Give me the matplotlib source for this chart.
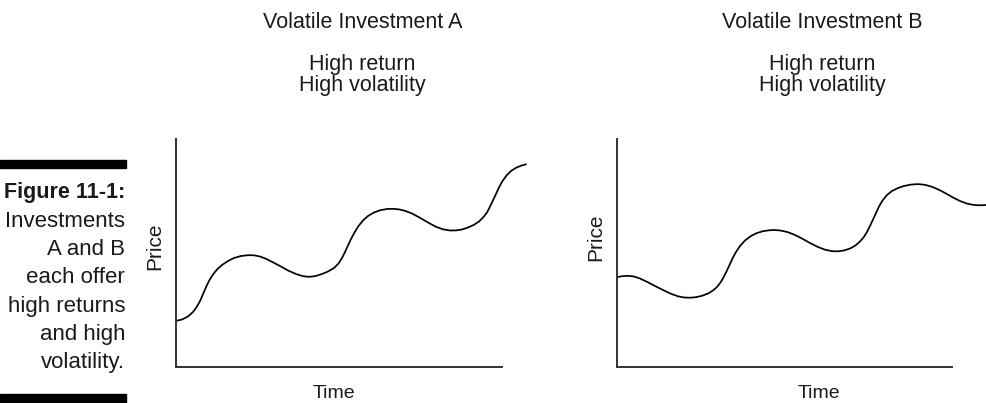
import matplotlib
matplotlib.use('Agg')
import matplotlib.pyplot as plt
import matplotlib.patches as mpatches

# curve readings, in axis units (time right of the y axis, price above the x axis)
time_a = [0, 6.3, 12.3, 17.3, 21.3, 24.8, 27.8, 30.8, 33.8, 37.3, 41.3, 46.3, 52.3,
          58.3, 65.3, 72.3, 78.3, 84.3, 90.3, 96.3, 104.3, 112.3, 120.3, 127.3, 133.3,
          139.3, 146.3, 152.3, 158.3, 162.8, 166.3, 169.3, 172.3, 175.3, 178.8, 182.8,
          187.3, 192.3, 198.3, 204.3, 211.3, 217.3, 223.3, 229.3, 236.3, 244.3, 252.3,
          260.3, 267.3, 274.3, 280.3, 286.3, 292.3, 298.3, 303.3, 307.3, 311.3, 314.3,
          317.3, 320.3, 323.3, 326.8, 330.8, 335.3, 340.3, 345.3, 350.3]
price_a = [46, 47.5, 50.5, 55, 60.5, 67, 74, 81, 87, 92.5, 97.5, 102, 106,
           109, 111, 111.8, 111.7, 110.5, 108.2, 105.2, 101, 96.5, 93, 90.8, 90.2,
           90.8, 93, 95.5, 99, 103.5, 109, 115, 121.5, 128, 134.5, 141,
           146.5, 151, 154.5, 156.7, 158, 158.2, 157.6, 156.2, 153.5, 149.2, 144.5,
           140.2, 137.7, 136.5, 136.6, 137.5, 139.5, 142.2, 145.5, 149.5, 154.5, 160.5,
           166.7, 173, 179.5, 186, 191.5, 196, 199.2, 201.3, 202.7]

time_b = [0, 5.3, 11.3, 17.3, 23.3, 30.3, 38.3, 46.3, 54.3, 61.3, 67.3, 73.3, 79.3,
          85.3, 91.3, 96.3, 100.3, 103.8, 106.8, 109.8, 112.8, 115.8, 119.3, 123.3,
          128.3, 134.3, 140.3, 146.3, 152.3, 158.3, 164.3, 171.3, 178.3, 185.3, 193.3,
          201.3, 208.3, 215.3, 221.3, 227.3, 233.3, 238.3, 242.8, 246.8, 250.3, 253.3,
          256.3, 259.3, 262.3, 265.8, 270.3, 275.3, 281.3, 287.3, 294.3, 301.3, 308.3,
          315.3, 322.3, 329.3, 336.3, 343.3, 350.3, 357.3, 363.3, 370]
price_b = [89.7, 90.8, 91.2, 90.5, 88.5, 85.2, 81, 77, 73.2, 70.7, 69.5, 69.3, 69.8,
           71.2, 73.5, 76.5, 80, 84.5, 89.5, 95.5, 102, 108.5, 115, 121,
           126.5, 131, 134, 135.8, 136.7, 137, 136.4, 134.8, 132, 128.5, 124,
           120, 117.3, 115.8, 115.7, 116.5, 118.5, 121.2, 125, 129.5, 135, 141,
           147.5, 154, 160.5, 166.5, 172, 176, 179, 181, 182.4, 182.9, 182.2,
           180.2, 177.2, 173.5, 169.5, 166, 163.4, 162, 161.7, 162]

titles = ['Volatile Investment A', 'Volatile Investment B']
caption_lines = ['Investments', 'A and B', 'each offer', 'high returns',
                 'and high', 'volatility.']

W, H = 987, 403
FONT = ['Liberation Sans', 'DejaVu Sans']
INK = '#1a1a1a'
AXIS = '#333333'

fig = plt.figure(figsize=(W / 100, H / 100), dpi=100)
fig.patch.set_facecolor('white')


def fx(x):
    return x / W


def fy(y):
    return 1 - y / H


def panel(left, right, top, bottom, t, p, xmax):
    ax = fig.add_axes([fx(left), fy(bottom), (right - left) / W, (bottom - top) / H])
    ax.plot(t, p, color='black', lw=1.25, clip_on=False,
            solid_joinstyle='round', solid_capstyle='round')
    ax.set_xlim(0, xmax)
    ax.set_ylim(0, bottom - top)
    ax.set_xticks([])
    ax.set_yticks([])
    for side in ['top', 'right']:
        ax.spines[side].set_visible(False)
    for side in ['left', 'bottom']:
        ax.spines[side].set_color(AXIS)
        ax.spines[side].set_linewidth(1.4)
    return ax


panel(175.7, 501.7, 139, 367, time_a, price_a, 326)
panel(616.7, 951.7, 139, 367, time_b, price_b, 335)

# headings above each panel
for cx, title in zip([362.5, 822.5], titles):
    fig.text(fx(cx), fy(28.5), title, ha='center', va='baseline',
             fontsize=15.5, family=FONT, color=INK)
    fig.text(fx(cx), fy(70), 'High return', ha='center', va='baseline',
             fontsize=15.5, family=FONT, color=INK)
    fig.text(fx(cx), fy(90.7), 'High volatility', ha='center', va='baseline',
             fontsize=15.5, family=FONT, color=INK)

# axis labels
for cx, cy in [(155, 246.7), (596, 237.5)]:
    fig.text(fx(cx), fy(cy), 'Price', rotation=90, ha='center', va='center',
             fontsize=15, family=FONT, color=INK)
for cx in [334, 818.5]:
    fig.text(fx(cx), fy(398), 'Time', ha='center', va='baseline',
             fontsize=14, family=FONT, color=INK)

# figure caption on the left
fig.text(fx(125), fy(198.3), 'Figure 11-1:', ha='right', va='baseline',
         fontsize=15.5, family=FONT, fontweight='bold', color=INK)
for i, line in enumerate(caption_lines):
    fig.text(fx(125), fy(226.7 + i * 28.3), line, ha='right', va='baseline',
             fontsize=16, family=FONT, color=INK)

fig.patches.append(mpatches.Rectangle((0, fy(168)), fx(126), 8 / H,
                                      transform=fig.transFigure, color='black'))
fig.patches.append(mpatches.Rectangle((0, 0), fx(126), 9 / H,
                                      transform=fig.transFigure, color='black'))

plt.savefig('out.png', dpi=100, facecolor='white')
